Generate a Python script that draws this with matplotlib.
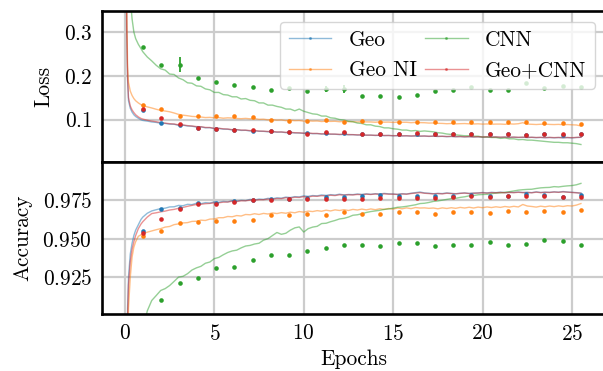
import matplotlib
matplotlib.use('Agg')
import matplotlib.pyplot as plt
from matplotlib.lines import Line2D

# ---------------- data ----------------
labels = ['Geo', 'Geo NI', 'CNN', 'Geo+CNN']
colors = ['#1f77b4', '#ff7f0e', '#2ca02c', '#d62728']

# training-curve sample positions (epochs)
ep = [0.0, 0.05, 0.1, 0.15, 0.2, 0.3, 0.4, 0.5, 0.6, 0.75, 0.9, 1.0, 1.25, 1.5, 1.75, 2.0,
      2.25, 2.5, 2.75, 3.0, 3.25, 3.5, 3.75, 4.0,
      4.25, 4.5, 4.75, 5.0, 5.25, 5.5, 5.75, 6.0,
      6.25, 6.5, 6.75, 7.0, 7.25, 7.5, 7.75, 8.0,
      8.25, 8.5, 8.75, 9.0, 9.25, 9.5, 9.75, 10.0,
      10.25, 10.5, 10.75, 11.0, 11.25, 11.5, 11.75, 12.0,
      12.25, 12.5, 12.75, 13.0, 13.25, 13.5, 13.75, 14.0,
      14.25, 14.5, 14.75, 15.0, 15.25, 15.5, 15.75, 16.0,
      16.25, 16.5, 16.75, 17.0, 17.25, 17.5, 17.75, 18.0,
      18.25, 18.5, 18.75, 19.0, 19.25, 19.5, 19.75, 20.0,
      20.25, 20.5, 20.75, 21.0, 21.25, 21.5, 21.75, 22.0,
      22.25, 22.5, 22.75, 23.0, 23.25, 23.5, 23.75, 24.0,
      24.25, 24.5, 24.75, 25.0, 25.25, 25.5]

loss_geo = [2.30, 0.60, 0.30, 0.19, 0.143, 0.126, 0.117, 0.111, 0.107, 0.103, 0.0995, 0.098, 0.0965, 0.0945, 0.0935, 0.0915,
            0.0912, 0.0895, 0.0893, 0.0868, 0.0872, 0.0853, 0.0848, 0.0830,
            0.0833, 0.0812, 0.0815, 0.0792, 0.0798, 0.0780, 0.0779, 0.0762,
            0.0768, 0.0752, 0.0755, 0.0740, 0.0744, 0.0732, 0.0731, 0.0721,
            0.0724, 0.0711, 0.0715, 0.0701, 0.0706, 0.0694, 0.0693, 0.0684,
            0.0689, 0.0677, 0.0680, 0.0668, 0.0673, 0.0664, 0.0665, 0.0656,
            0.0661, 0.0652, 0.0655, 0.0645, 0.0649, 0.0641, 0.0644, 0.0636,
            0.0641, 0.0632, 0.0637, 0.0628, 0.0633, 0.0625, 0.0629, 0.0621,
            0.0627, 0.0619, 0.0624, 0.0615, 0.0621, 0.0613, 0.0617, 0.0609,
            0.0614, 0.0607, 0.0612, 0.0603, 0.0609, 0.0601, 0.0606, 0.0598,
            0.0604, 0.0597, 0.0602, 0.0594, 0.0599, 0.0592, 0.0597, 0.0590,
            0.0595, 0.0588, 0.0594, 0.0586, 0.0591, 0.0584, 0.0590, 0.0583,
            0.0589, 0.0582, 0.0588, 0.0581, 0.0590, 0.0594]
loss_geoni = [2.30, 0.70, 0.36, 0.22, 0.185, 0.165, 0.155, 0.148, 0.143, 0.138, 0.134, 0.132, 0.129, 0.1265, 0.1235, 0.1210,
              0.1195, 0.1178, 0.1150, 0.1118, 0.1100, 0.1088, 0.1072, 0.1066,
              0.1058, 0.1046, 0.1050, 0.1040, 0.1045, 0.1031, 0.1040, 0.1035,
              0.1025, 0.1020, 0.1027, 0.1017, 0.1022, 0.1005, 0.1008, 0.0993,
              0.0998, 0.0987, 0.0992, 0.0976, 0.0984, 0.0975, 0.0978, 0.0964,
              0.0972, 0.0965, 0.0968, 0.0955, 0.0963, 0.0958, 0.0961, 0.0950,
              0.0958, 0.0953, 0.0952, 0.0944, 0.0951, 0.0946, 0.0945, 0.0938,
              0.0946, 0.0940, 0.0942, 0.0934, 0.0941, 0.0937, 0.0938, 0.0928,
              0.0935, 0.0930, 0.0928, 0.0920, 0.0922, 0.0914, 0.0912, 0.0905,
              0.0910, 0.0902, 0.0906, 0.0909, 0.0902, 0.0899, 0.0903, 0.0896,
              0.0900, 0.0893, 0.0897, 0.0897, 0.0892, 0.0901, 0.0897, 0.0905,
              0.0928, 0.0896, 0.0892, 0.0887, 0.0893, 0.0897, 0.0889, 0.0886,
              0.0890, 0.0882, 0.0886, 0.0880, 0.0876, 0.0853]
loss_cnn = [2.30, 1.20, 0.80, 0.60, 0.50, 0.38, 0.33, 0.300, 0.285, 0.272, 0.262, 0.255, 0.243, 0.234, 0.224, 0.216,
            0.213, 0.204, 0.203, 0.195, 0.191, 0.184, 0.183, 0.177,
            0.176, 0.170, 0.168, 0.162, 0.162, 0.157, 0.156, 0.152,
            0.152, 0.147, 0.148, 0.144, 0.143, 0.138, 0.138, 0.133,
            0.133, 0.130, 0.128, 0.124, 0.124, 0.120, 0.124, 0.119,
            0.116, 0.113, 0.112, 0.108, 0.108, 0.104, 0.103, 0.100,
            0.099, 0.096, 0.095, 0.092, 0.091, 0.088, 0.088, 0.085,
            0.084, 0.081, 0.081, 0.079, 0.078, 0.076, 0.076, 0.074,
            0.075, 0.073, 0.074, 0.073, 0.072, 0.070, 0.069, 0.067,
            0.066, 0.065, 0.064, 0.063, 0.063, 0.062, 0.062, 0.060,
            0.060, 0.059, 0.059, 0.057, 0.058, 0.056, 0.056, 0.054,
            0.0545, 0.053, 0.053, 0.052, 0.051, 0.050, 0.049, 0.048,
            0.048, 0.047, 0.047, 0.046, 0.045, 0.043]
loss_geocnn = [2.30, 0.62, 0.31, 0.195, 0.150, 0.131, 0.122, 0.116, 0.111, 0.106, 0.1025, 0.101, 0.0985, 0.0965, 0.0950, 0.0930,
               0.0918, 0.0906, 0.0898, 0.0879, 0.0876, 0.0862, 0.0852, 0.0840,
               0.0836, 0.0820, 0.0818, 0.0800, 0.0800, 0.0789, 0.0783, 0.0770,
               0.0770, 0.0760, 0.0757, 0.0748, 0.0747, 0.0738, 0.0734, 0.0728,
               0.0726, 0.0717, 0.0716, 0.0708, 0.0707, 0.0700, 0.0696, 0.0690,
               0.0690, 0.0684, 0.0682, 0.0674, 0.0674, 0.0670, 0.0667, 0.0662,
               0.0663, 0.0658, 0.0655, 0.0651, 0.0650, 0.0646, 0.0644, 0.0641,
               0.0641, 0.0637, 0.0636, 0.0632, 0.0633, 0.0629, 0.0629, 0.0626,
               0.0627, 0.0623, 0.0624, 0.0619, 0.0621, 0.0617, 0.0618, 0.0613,
               0.0616, 0.0611, 0.0612, 0.0607, 0.0610, 0.0605, 0.0607, 0.0602,
               0.0605, 0.0601, 0.0603, 0.0598, 0.0601, 0.0596, 0.0599, 0.0595,
               0.0597, 0.0593, 0.0595, 0.0591, 0.0593, 0.0589, 0.0592, 0.0588,
               0.0591, 0.0587, 0.0590, 0.0586, 0.0592, 0.0596]

acc_geo = [0.10, 0.60, 0.85, 0.905, 0.925, 0.940, 0.947, 0.952, 0.9555, 0.959, 0.9625, 0.964, 0.9665, 0.968, 0.9688, 0.9695,
           0.9698, 0.9706, 0.9707, 0.9716, 0.9714, 0.9723, 0.9721, 0.9730,
           0.9727, 0.9734, 0.9731, 0.9739, 0.9736, 0.9742, 0.9739, 0.9747,
           0.9744, 0.9749, 0.9747, 0.9755, 0.9751, 0.9757, 0.9755, 0.9762,
           0.9759, 0.9765, 0.9763, 0.9770, 0.9767, 0.9773, 0.9771, 0.9778,
           0.9775, 0.9780, 0.9778, 0.9784, 0.9781, 0.9786, 0.9783, 0.9789,
           0.9784, 0.9787, 0.9786, 0.9790, 0.9787, 0.9791, 0.9788, 0.9792,
           0.9790, 0.9794, 0.9791, 0.9790, 0.9788, 0.9792, 0.9790, 0.9795,
           0.9799, 0.9803, 0.9797, 0.9795, 0.9792, 0.9794, 0.9793, 0.9797,
           0.9794, 0.9792, 0.9795, 0.9797, 0.9794, 0.9796, 0.9797, 0.9800,
           0.9797, 0.9801, 0.9799, 0.9802, 0.9799, 0.9801, 0.9800, 0.9803,
           0.9800, 0.9801, 0.9799, 0.9804, 0.9800, 0.9802, 0.9801, 0.9804,
           0.9802, 0.9806, 0.9803, 0.9801, 0.9799, 0.9796]
acc_geoni = [0.10, 0.50, 0.75, 0.87, 0.905, 0.925, 0.938, 0.9445, 0.948, 0.9515, 0.9525, 0.9533, 0.9542, 0.955, 0.9558, 0.9565,
             0.9575, 0.9579, 0.9591, 0.9596, 0.9602, 0.9604, 0.9612, 0.9613,
             0.9620, 0.9618, 0.9627, 0.9628, 0.9636, 0.9636, 0.9644, 0.9642,
             0.9650, 0.9647, 0.9657, 0.9655, 0.9662, 0.9657, 0.9664, 0.9660,
             0.9667, 0.9663, 0.9669, 0.9665, 0.9672, 0.9668, 0.9676, 0.9672,
             0.9679, 0.9676, 0.9682, 0.9678, 0.9685, 0.9680, 0.9687, 0.9683,
             0.9688, 0.9683, 0.9690, 0.9686, 0.9692, 0.9687, 0.9693, 0.9688,
             0.9694, 0.9690, 0.9696, 0.9692, 0.9699, 0.9694, 0.9700, 0.9695,
             0.9702, 0.9699, 0.9700, 0.9697, 0.9699, 0.9694, 0.9700, 0.9696,
             0.9701, 0.9697, 0.9703, 0.9699, 0.9704, 0.9699, 0.9705, 0.9701,
             0.9706, 0.9702, 0.9707, 0.9703, 0.9709, 0.9705, 0.9710, 0.9706,
             0.9722, 0.9712, 0.9709, 0.9705, 0.9711, 0.9707, 0.9712, 0.9708,
             0.9713, 0.9709, 0.9714, 0.9712, 0.9718, 0.9728]
acc_cnn = [0.10, 0.30, 0.45, 0.55, 0.62, 0.70, 0.75, 0.79, 0.82, 0.85, 0.875, 0.89, 0.903, 0.9098, 0.913, 0.9163,
           0.9175, 0.9195, 0.9222, 0.9250, 0.9255, 0.9272, 0.9296, 0.9310,
           0.9320, 0.9340, 0.9348, 0.9370, 0.9378, 0.9395, 0.9410, 0.9420,
           0.9425, 0.9440, 0.9452, 0.9456, 0.9465, 0.9470, 0.9490, 0.9500,
           0.9520, 0.9540, 0.9528, 0.9535, 0.9555, 0.9570, 0.9576, 0.9543,
           0.9565, 0.9575, 0.9580, 0.9598, 0.9600, 0.9610, 0.9618, 0.9628,
           0.9632, 0.9640, 0.9652, 0.9655, 0.9662, 0.9670, 0.9676, 0.9680,
           0.9684, 0.9690, 0.9693, 0.9698, 0.9704, 0.9706, 0.9710, 0.9715,
           0.9720, 0.9728, 0.9730, 0.9735, 0.9742, 0.9745, 0.9750, 0.9755,
           0.9760, 0.9762, 0.9768, 0.9772, 0.9778, 0.9780, 0.9785, 0.9787,
           0.9788, 0.9792, 0.9796, 0.9797, 0.9801, 0.9805, 0.9810, 0.9815,
           0.9818, 0.9820, 0.9821, 0.9826, 0.9830, 0.9832, 0.9833, 0.9838,
           0.9836, 0.9840, 0.9843, 0.9845, 0.9850, 0.9859]
acc_geocnn = [0.10, 0.55, 0.83, 0.90, 0.92, 0.935, 0.943, 0.948, 0.952, 0.9565, 0.9595, 0.961, 0.964, 0.9663, 0.9668, 0.9674,
              0.9679, 0.9686, 0.9690, 0.9697, 0.9703, 0.9710, 0.9716, 0.9722,
              0.9723, 0.9727, 0.9729, 0.9733, 0.9733, 0.9737, 0.9738, 0.9743,
              0.9741, 0.9746, 0.9746, 0.9750, 0.9749, 0.9753, 0.9753, 0.9757,
              0.9756, 0.9761, 0.9760, 0.9766, 0.9764, 0.9769, 0.9768, 0.9773,
              0.9771, 0.9776, 0.9775, 0.9779, 0.9778, 0.9782, 0.9780, 0.9785,
              0.9783, 0.9785, 0.9784, 0.9787, 0.9786, 0.9789, 0.9787, 0.9790,
              0.9788, 0.9791, 0.9789, 0.9789, 0.9787, 0.9790, 0.9789, 0.9793,
              0.9796, 0.9799, 0.9795, 0.9793, 0.9791, 0.9793, 0.9791, 0.9795,
              0.9793, 0.9791, 0.9794, 0.9796, 0.9793, 0.9795, 0.9796, 0.9798,
              0.9796, 0.9799, 0.9798, 0.9800, 0.9798, 0.9800, 0.9799, 0.9801,
              0.9799, 0.9800, 0.9798, 0.9802, 0.9799, 0.9801, 0.9800, 0.9803,
              0.9801, 0.9804, 0.9802, 0.9800, 0.9798, 0.9795]

# validation points (one per epoch)
val_ep = [1.02, 2.04, 3.06, 4.08, 5.10, 6.12, 7.14, 8.16, 9.18, 10.2, 11.22, 12.24, 13.26,
          14.28, 15.3, 16.32, 17.34, 18.36, 19.38, 20.4, 21.42, 22.44, 23.46, 24.48, 25.5]

vloss_geo = [0.122, 0.0925, 0.087, 0.081, 0.079, 0.0755, 0.074, 0.073, 0.071, 0.069, 0.070, 0.070, 0.068,
             0.067, 0.066, 0.068, 0.066, 0.066, 0.066, 0.066, 0.066, 0.065, 0.066, 0.064, 0.066]
vloss_geoni = [0.133, 0.123, 0.109, 0.108, 0.107, 0.107, 0.106, 0.0985, 0.097, 0.096, 0.100, 0.095, 0.097,
               0.094, 0.095, 0.094, 0.095, 0.0935, 0.0935, 0.0935, 0.0935, 0.094, 0.093, 0.092, 0.089]
vloss_cnn = [0.265, 0.225, 0.225, 0.196, 0.186, 0.179, 0.175, 0.167, 0.171, 0.166, 0.170, 0.170, 0.153,
             0.153, 0.152, 0.157, 0.165, 0.167, 0.174, 0.168, 0.167, 0.183, 0.171, 0.177, 0.174]
vloss_cnn_err = [0.0, 0.0, 0.017, 0.0, 0.0, 0.0, 0.0, 0.0, 0.0, 0.0, 0.007, 0.010, 0.0,
                 0.0, 0.0, 0.0, 0.0, 0.0, 0.0, 0.0, 0.0, 0.0, 0.0, 0.0, 0.0]
vloss_geocnn = [0.125, 0.104, 0.089, 0.081, 0.0795, 0.076, 0.0755, 0.074, 0.071, 0.068, 0.0705, 0.071, 0.0667,
                0.0667, 0.0665, 0.069, 0.0668, 0.0668, 0.0665, 0.0667, 0.0665, 0.0645, 0.0667, 0.0667, 0.0665]

vacc_geo = [0.9548, 0.9693, 0.9697, 0.9733, 0.9733, 0.9744, 0.9754, 0.9757, 0.9760, 0.9765, 0.9770, 0.9772, 0.9776,
            0.9783, 0.9780, 0.9780, 0.9780, 0.9780, 0.9785, 0.9776, 0.9780, 0.9790, 0.9783, 0.9770, 0.9783]
vacc_geoni = [0.9515, 0.9548, 0.9604, 0.9610, 0.9617, 0.9613, 0.9620, 0.9652, 0.9652, 0.9657, 0.9652, 0.9670, 0.9663,
              0.9659, 0.9670, 0.9670, 0.9661, 0.9670, 0.9670, 0.9665, 0.9680, 0.9674, 0.9680, 0.9676, 0.9689]
vacc_cnn = [0.8930, 0.9104, 0.9209, 0.9241, 0.9308, 0.9317, 0.9361, 0.9396, 0.9394, 0.9419, 0.9439, 0.9456, 0.9461,
            0.9452, 0.9472, 0.9470, 0.9454, 0.9461, 0.9461, 0.9481, 0.9461, 0.9467, 0.9489, 0.9485, 0.9461]
vacc_geocnn = [0.9535, 0.9628, 0.9693, 0.9725, 0.9728, 0.9741, 0.9750, 0.9750, 0.9755, 0.9757, 0.9757, 0.9759, 0.9760,
               0.9767, 0.9767, 0.9764, 0.9762, 0.9772, 0.9780, 0.9772, 0.9776, 0.9780, 0.9776, 0.9772, 0.9772]

xticks = [0, 5, 10, 15, 20, 25]
loss_ticks = [0.1, 0.2, 0.3]
acc_ticks = [0.925, 0.950, 0.975]

# ---------------- style ----------------
plt.rcParams.update({
    'font.family': 'cmr10',
    'mathtext.fontset': 'cm',
    'axes.formatter.use_mathtext': True,
    'font.size': 15.4,
})

fig = plt.figure(figsize=(6.03, 3.71), dpi=100)
ax1 = fig.add_axes([0.1692, 0.5633, 0.8351, 0.4070])
ax2 = fig.add_axes([0.1692, 0.1536, 0.8351, 0.4097], sharex=ax1)

train_loss = [loss_geo, loss_geoni, loss_cnn, loss_geocnn]
train_acc = [acc_geo, acc_geoni, acc_cnn, acc_geocnn]
val_loss = [vloss_geo, vloss_geoni, vloss_cnn, vloss_geocnn]
val_loss_err = [None, None, vloss_cnn_err, None]
val_acc = [vacc_geo, vacc_geoni, vacc_cnn, vacc_geocnn]

for i, c in enumerate(colors):
    ax1.plot(ep, train_loss[i], color=c, alpha=0.5, lw=1.0, zorder=2)
    ax2.plot(ep, train_acc[i], color=c, alpha=0.5, lw=1.0, zorder=2)
for i, c in enumerate(colors):
    ax1.errorbar(val_ep, val_loss[i], yerr=val_loss_err[i], fmt='o', color=c, ms=3.3,
                 mew=0, elinewidth=1.3, capsize=0, zorder=3)
    ax2.errorbar(val_ep, val_acc[i], fmt='o', color=c, ms=3.3, mew=0, zorder=3)

for ax in (ax1, ax2):
    ax.grid(True, color='#cccccc', lw=1.6)
    ax.set_axisbelow(True)
    for s in ax.spines.values():
        s.set_linewidth(1.9)
        s.set_color('black')
    ax.tick_params(length=0, pad=7)

ax1.set_xlim(-1.28, 26.88)
ax1.set_ylim(0.003, 0.348)
ax2.set_ylim(0.901, 0.9998)
ax1.set_yticks(loss_ticks)
ax2.set_yticks(acc_ticks)
ax2.set_xticks(xticks)
ax1.tick_params(labelbottom=False)

ax1.set_ylabel('Loss', labelpad=7.5)
ax2.set_ylabel('Accuracy', labelpad=7.5)
ax2.set_xlabel('Epochs')

handles = [Line2D([], [], color=c, alpha=0.5, lw=1.0, marker='o', ms=1.2) for c in colors]
ax1.legend(handles, labels, loc='upper right', ncol=2, columnspacing=0.4,
           framealpha=0.8, edgecolor='#cccccc', fancybox=True)

fig.savefig('out.png', dpi=100)
